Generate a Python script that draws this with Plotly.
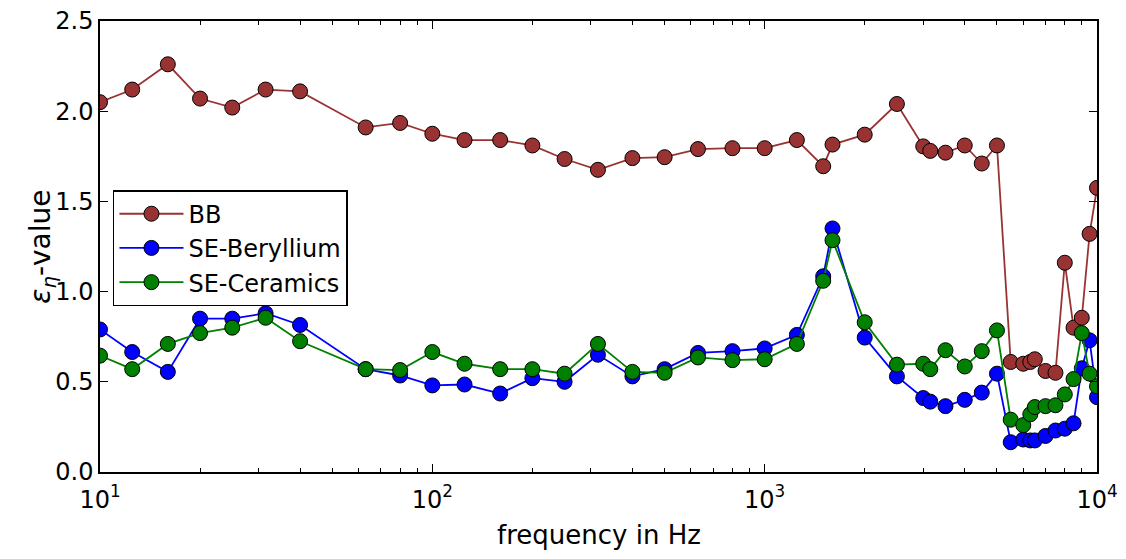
import plotly.graph_objects as go

freq = [10, 12.5, 16, 20, 25, 31.5, 40, 63, 80, 100, 125, 160, 200, 250, 315, 400,
        500, 630, 800, 1000, 1250, 1500, 1600, 2000, 2500, 3000, 3150, 3500, 4000,
        4500, 5000, 5500, 6000, 6300, 6500, 7000, 7500, 8000, 8500, 9000, 9500, 10000]

bb = [2.05, 2.12, 2.26, 2.07, 2.02, 2.12, 2.11, 1.91, 1.935, 1.875, 1.84, 1.84, 1.81,
      1.735, 1.675, 1.74, 1.745, 1.79, 1.795, 1.795, 1.84, 1.695, 1.815, 1.87, 2.04,
      1.805, 1.78, 1.77, 1.81, 1.71, 1.81, 0.61, 0.60, 0.61, 0.625, 0.56, 0.55, 1.16,
      0.80, 0.855, 1.32, 1.575]

beryllium = [0.79, 0.665, 0.555, 0.85, 0.85, 0.88, 0.815, 0.57, 0.535, 0.48, 0.485,
             0.435, 0.52, 0.50, 0.65, 0.53, 0.57, 0.66, 0.67, 0.685, 0.76, 1.085, 1.35,
             0.745, 0.53, 0.41, 0.39, 0.365, 0.40, 0.44, 0.545, 0.165, 0.18, 0.175,
             0.175, 0.20, 0.23, 0.24, 0.27, 0.575, 0.73, 0.415]

ceramics = [0.645, 0.57, 0.71, 0.77, 0.80, 0.855, 0.725, 0.57, 0.565, 0.665, 0.60,
            0.57, 0.57, 0.545, 0.71, 0.555, 0.55, 0.635, 0.62, 0.625, 0.71, 1.06, 1.285,
            0.83, 0.595, 0.60, 0.57, 0.675, 0.585, 0.67, 0.785, 0.29, 0.26, 0.32, 0.36,
            0.365, 0.37, 0.43, 0.515, 0.77, 0.545, 0.475]

series = [("BB", bb, "#993333"), ("SE-Beryllium", beryllium, "#0000ff"),
          ("SE-Ceramics", ceramics, "#008000")]

x_major = [10, 100, 1000, 10000]
x_major_text = ["10<sup>1</sup>", "10<sup>2</sup>", "10<sup>3</sup>", "10<sup>4</sup>"]
x_minor = [m * d for d in (10, 100, 1000) for m in range(2, 10)]
y_ticks = [0.0, 0.5, 1.0, 1.5, 2.0, 2.5]

FONT = "DejaVu Sans"
fig = go.Figure()
for name, vals, col in series:
    fig.add_trace(go.Scatter(
        x=freq, y=vals, name=name, mode="lines+markers",
        line=dict(color=col, width=1.8),
        marker=dict(color=col, size=15, line=dict(color="black", width=1)),
    ))

fig.update_layout(
    width=1126, height=559,
    margin=dict(l=100, r=29, t=21, b=87),
    paper_bgcolor="white", plot_bgcolor="white",
    font=dict(family=FONT, size=24, color="black"),
    showlegend=True,
    legend=dict(x=0.013, y=0.625, xanchor="left", yanchor="top",
                bgcolor="white", bordercolor="black", borderwidth=1.5,
                font=dict(family=FONT, size=24), itemwidth=64),
    xaxis=dict(
        type="log", range=[1, 4], automargin=False,
        tickvals=x_major, ticktext=x_major_text, ticklabelstandoff=5,
        ticks="inside", ticklen=8, tickwidth=1, tickcolor="black",
        showline=True, linecolor="black", linewidth=1.5, mirror="allticks",
        showgrid=False, zeroline=False,
        tickfont=dict(family=FONT, size=24),
        minor=dict(tickvals=x_minor, ticks="inside", ticklen=4, tickwidth=1,
                   tickcolor="black", showgrid=False),
    ),
    yaxis=dict(
        range=[0, 2.5], tickvals=y_ticks, tickformat=".1f", automargin=False,
        ticks="inside", ticklen=8, tickwidth=1, tickcolor="black",
        showline=True, linecolor="black", linewidth=1.5, mirror="allticks",
        showgrid=False, zeroline=False,
        tickfont=dict(family=FONT, size=24),
    ),
    annotations=[
        dict(text="frequency in Hz", xref="paper", yref="paper", x=0.5, y=-0.14,
             xanchor="center", yanchor="middle", showarrow=False,
             font=dict(family=FONT, size=26)),
        dict(text="<i>ε</i><sub><i>η</i></sub>-value", xref="paper", yref="paper",
             x=-0.058, y=0.5, xanchor="center", yanchor="middle", textangle=-90,
             showarrow=False, font=dict(family=FONT, size=28)),
    ],
)

fig.write_html("out.html")
